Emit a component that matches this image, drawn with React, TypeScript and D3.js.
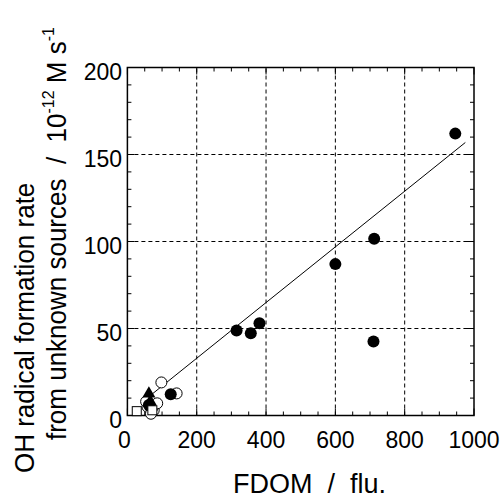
import React, { useEffect, useRef } from "react";
import * as d3 from "d3";

// FDOM (flu.) vs OH formation rate from unknown sources (1e-12 M/s)
const filledFdom = [946, 712, 600, 710, 315, 356, 381, 125, 62];
const filledOh = [162, 101.6, 87, 42.5, 48.8, 47.3, 53, 12.2, 6];
const openFdom = [98, 142, 58, 76, 86, 68, 54];
const openOh = [19, 12.7, 5, 3, 7, 1, 8];
const triFdom = [62, 66, 70];
const triOh = [12.5, 8, 5];
const squareFdom = [27, 72];
const squareOh = [2.5, 3];

// regression line
const fitSlope = 0.16;
const fitIntercept = 0.9;
const fitRange = [50, 975];

const xTicks = [0, 200, 400, 600, 800, 1000];
const yTicks = [0, 50, 100, 150, 200];

export default function App() {
  const ref = useRef<SVGSVGElement>(null);

  useEffect(() => {
    const svg = d3.select(ref.current);
    svg.selectAll("*").remove();

    const x = d3.scaleLinear().domain([0, 1000]).range([127.4, 474]);
    const y = d3.scaleLinear().domain([0, 200]).range([415.5, 67.5]);
    const font = "'Liberation Sans', Arial, sans-serif";

    const g = svg.append("g");

    // dashed grid
    g.selectAll("line.gx")
      .data(xTicks.slice(1, -1))
      .enter()
      .append("line")
      .attr("x1", (d) => x(d))
      .attr("x2", (d) => x(d))
      .attr("y1", y(0))
      .attr("y2", y(200))
      .attr("stroke", "#000")
      .attr("stroke-width", 1)
      .attr("stroke-dasharray", "4,3");
    g.selectAll("line.gy")
      .data(yTicks.slice(1, -1))
      .enter()
      .append("line")
      .attr("x1", x(0))
      .attr("x2", x(1000))
      .attr("y1", (d) => y(d))
      .attr("y2", (d) => y(d))
      .attr("stroke", "#000")
      .attr("stroke-width", 1)
      .attr("stroke-dasharray", "4,3");

    // inward ticks on all four sides
    const xMinor = d3.range(0, 1001, 50);
    const yMinor = d3.range(0, 201, 10);
    xMinor.forEach((v) => {
      const len = v % 200 === 0 ? 7 : 4;
      g.append("line").attr("x1", x(v)).attr("x2", x(v)).attr("y1", y(0)).attr("y2", y(0) - len).attr("stroke", "#000");
      g.append("line").attr("x1", x(v)).attr("x2", x(v)).attr("y1", y(200)).attr("y2", y(200) + len).attr("stroke", "#000");
    });
    yMinor.forEach((v) => {
      const len = v % 50 === 0 ? 7 : 4;
      g.append("line").attr("x1", x(0)).attr("x2", x(0) + len).attr("y1", y(v)).attr("y2", y(v)).attr("stroke", "#000");
      g.append("line").attr("x1", x(1000)).attr("x2", x(1000) - len).attr("y1", y(v)).attr("y2", y(v)).attr("stroke", "#000");
    });

    g.append("rect")
      .attr("x", x(0))
      .attr("y", y(200))
      .attr("width", x(1000) - x(0))
      .attr("height", y(0) - y(200))
      .attr("fill", "none")
      .attr("stroke", "#000")
      .attr("stroke-width", 1.5);

    // tick labels
    g.selectAll("text.xt")
      .data(xTicks)
      .enter()
      .append("text")
      .attr("x", (d) => x(d) - (d === 0 ? 3 : 0))
      .attr("y", 448)
      .attr("text-anchor", "middle")
      .attr("font-family", font)
      .attr("font-size", 23)
      .text((d) => d);
    g.selectAll("text.yt")
      .data(yTicks)
      .enter()
      .append("text")
      .attr("x", 122)
      .attr("y", (d) => y(d) + 12)
      .attr("text-anchor", "end")
      .attr("font-family", font)
      .attr("font-size", 23)
      .text((d) => d);

    // fit line
    const line = d3
      .line<number>()
      .x((d) => x(d))
      .y((d) => y(fitSlope * d + fitIntercept));
    g.append("path").attr("d", line(fitRange)).attr("stroke", "#000").attr("stroke-width", 1).attr("fill", "none");

    // markers
    g.selectAll("circle.open")
      .data(d3.range(openFdom.length))
      .enter()
      .append("circle")
      .attr("cx", (i) => x(openFdom[i]))
      .attr("cy", (i) => y(openOh[i]))
      .attr("r", 5.5)
      .attr("fill", "#fff")
      .attr("stroke", "#000")
      .attr("stroke-width", 1);
    g.selectAll("circle.filled")
      .data(d3.range(filledFdom.length))
      .enter()
      .append("circle")
      .attr("cx", (i) => x(filledFdom[i]))
      .attr("cy", (i) => y(filledOh[i]))
      .attr("r", 6)
      .attr("fill", "#000");
    const tri = d3.symbol().type(d3.symbolTriangle).size(75);
    g.selectAll("path.tri")
      .data(d3.range(triFdom.length))
      .enter()
      .append("path")
      .attr("d", tri())
      .attr("transform", (i) => `translate(${x(triFdom[i])},${y(triOh[i])})`)
      .attr("fill", "#000");
    g.selectAll("rect.sq")
      .data(d3.range(squareFdom.length))
      .enter()
      .append("rect")
      .attr("x", (i) => x(squareFdom[i]) - 4.5)
      .attr("y", (i) => y(squareOh[i]) - 4.5)
      .attr("width", 9)
      .attr("height", 9)
      .attr("fill", "#fff")
      .attr("stroke", "#000")
      .attr("stroke-width", 1);

    // axis titles
    svg
      .append("text")
      .attr("x", 233)
      .attr("y", 493)
      .attr("font-family", font)
      .attr("font-size", 27)
      .style("white-space", "pre")
      .text("FDOM  /  flu.");

    svg
      .append("text")
      .attr("transform", "translate(34,473) scale(1.08,1) rotate(-90)")
      .attr("font-family", font)
      .attr("font-size", 26)
      .text("OH radical formation rate");

    const t2 = svg
      .append("text")
      .attr("transform", "translate(66,440) scale(1.08,1) rotate(-90)")
      .attr("font-family", font)
      .attr("font-size", 26)
      .style("white-space", "pre");
    t2.append("tspan").text("from unknown sources  /  10");
    t2.append("tspan").attr("font-size", 16).attr("dy", -11).text("-12");
    t2.append("tspan").attr("dy", 11).text(" M s");
    t2.append("tspan").attr("font-size", 16).attr("dy", -11).text("-1");
  }, []);

  return (
    <svg
      ref={ref}
      width={501}
      height={500}
      style={{ position: "absolute", left: 0, top: 0, background: "#fff" }}
    />
  );
}
